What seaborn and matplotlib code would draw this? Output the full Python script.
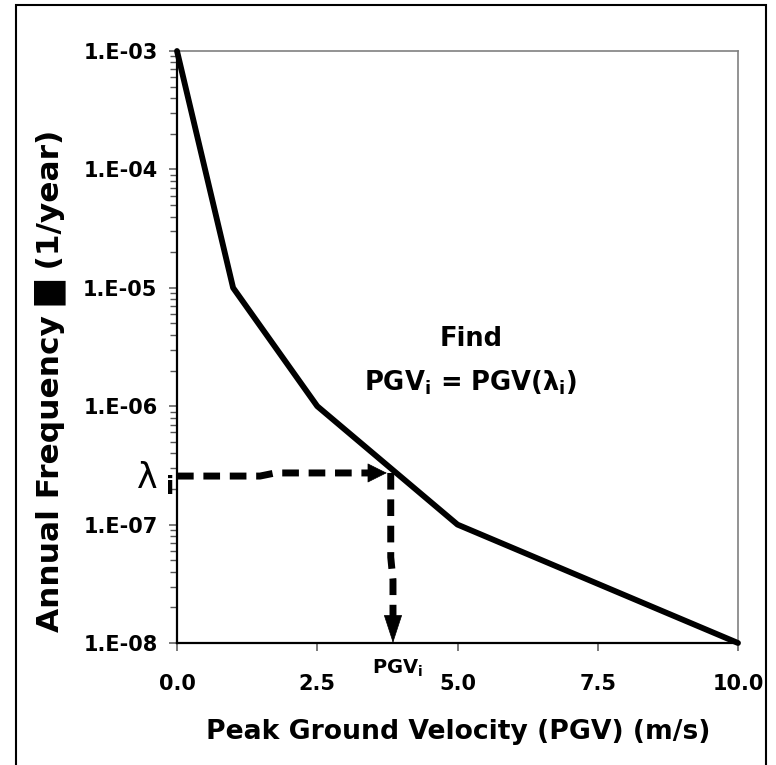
import numpy as np
import pandas as pd
import seaborn as sns
import matplotlib
matplotlib.use("Agg")
import matplotlib.pyplot as plt
from matplotlib.ticker import FixedLocator, LogLocator, NullFormatter, FixedFormatter
from matplotlib.patches import Rectangle

# ---- data ----
pgv = [0.0, 1.0, 2.5, 5.0, 10.0]
freq = [1e-3, 1e-5, 1e-6, 1e-7, 1e-8]

x_ticks = [0.0, 2.5, 5.0, 7.5, 10.0]
x_ticklabels = ["0.0", "2.5", "5.0", "7.5", "10.0"]
y_ticks = [1e-8, 1e-7, 1e-6, 1e-5, 1e-4, 1e-3]
y_ticklabels = ["1.E-08", "1.E-07", "1.E-06", "1.E-05", "1.E-04", "1.E-03"]

# dashed guide from lambda_i to the curve
h_x = [0.0, 1.48, 1.75, 3.42]
h_y = [2.57e-7, 2.57e-7, 2.73e-7, 2.73e-7]
h_tip = (3.74, 2.73e-7)
# dashed guide from the curve down to PGV_i
v_x = [3.81, 3.81, 3.85, 3.85]
v_y = [2.73e-7, 5.3e-8, 3.4e-8, 1.66e-8]
v_tip = (3.85, 1.0e-8)

# ---- style ----
sns.set_theme(style="ticks")
plt.rcParams["font.family"] = ["DejaVu Sans"]
plt.rcParams["font.weight"] = "bold"
plt.rcParams["mathtext.default"] = "regular"
for k in ["text.color", "axes.labelcolor", "xtick.labelcolor", "ytick.labelcolor"]:
    plt.rcParams[k] = "black"

fig = plt.figure(figsize=(7.76, 7.65), dpi=100)
ax = fig.add_axes([177 / 776, 1 - 643 / 765, (738 - 177) / 776, (643 - 51) / 765])

df = pd.DataFrame({"PGV": pgv, "Freq": freq})
sns.lineplot(data=df, x="PGV", y="Freq", ax=ax, color="black", lw=4.2,
             clip_on=False, zorder=3)

ax.set_yscale("log")
ax.set_xlim(0, 10)
ax.set_ylim(1e-8, 1e-3)

ax.xaxis.set_major_locator(FixedLocator(x_ticks))
ax.xaxis.set_major_formatter(FixedFormatter(x_ticklabels))
ax.yaxis.set_major_locator(FixedLocator(y_ticks))
ax.yaxis.set_major_formatter(FixedFormatter(y_ticklabels))
ax.yaxis.set_minor_locator(LogLocator(base=10, subs=np.arange(2, 10)))
ax.yaxis.set_minor_formatter(NullFormatter())

ax.tick_params(axis="both", which="major", direction="out", length=6, width=1.1,
               color="#555555", labelsize=15, labelcolor="black")
ax.tick_params(axis="y", which="minor", direction="out", length=5, width=1.0,
               color="#555555")
ax.tick_params(axis="y", which="major", pad=8)
ax.tick_params(axis="x", which="major", pad=16)
for lab in ax.get_xticklabels() + ax.get_yticklabels():
    lab.set_fontweight("bold")

for s in ["left", "bottom"]:
    ax.spines[s].set_color("black")
    ax.spines[s].set_linewidth(1.6)
for s in ["top", "right"]:
    ax.spines[s].set_visible(True)
    ax.spines[s].set_color("#808080")
    ax.spines[s].set_linewidth(1.2)

ax.set_xlabel("Peak Ground Velocity (PGV) (m/s)", fontsize=19.2, fontweight="bold",
              color="black")
ax.xaxis.set_label_coords(0.501, -0.128)
ax.set_ylabel("Annual Frequency \u2588 (1/year)", fontsize=22.5, fontweight="bold",
              color="black")
ax.yaxis.set_label_coords(-0.198, 0.4426)

# dashed guides + arrow heads
ax.plot(h_x, h_y, color="black", lw=5, ls=(0, (2.4, 1.4)), clip_on=False, zorder=4)
ax.plot(v_x, v_y, color="black", lw=5, ls=(0, (2.4, 1.4)), clip_on=False, zorder=4)
ax.annotate("", xy=h_tip, xytext=(-13, 0), textcoords="offset points",
            arrowprops=dict(arrowstyle="-|>,head_length=13,head_width=6.5",
                            mutation_scale=1, color="black", lw=0.5,
                            shrinkA=0, shrinkB=0), zorder=5)
ax.annotate("", xy=v_tip, xytext=(0, 19), textcoords="offset points",
            arrowprops=dict(arrowstyle="-|>,head_length=19,head_width=6.2",
                            mutation_scale=1, color="black", lw=0.5,
                            shrinkA=0, shrinkB=0), zorder=5)

# annotations
ax.text(0.524, 0.5135, "Find", transform=ax.transAxes, ha="center", va="center",
        fontsize=18.5, fontweight="bold", color="black")
ax.text(0.524, 0.439, r"PGV$_\mathbf{i}$ = PGV($\lambda_\mathbf{i}$)", transform=ax.transAxes,
        ha="center", va="center", fontsize=18.5, fontweight="bold", color="black")
ax.text(-0.006, 0.279, r"$\lambda_\mathbf{\ i}$", transform=ax.transAxes, ha="right",
        va="center", fontsize=25, fontweight="normal", clip_on=False, color="black")
ax.text(0.394, -0.042, r"PGV$_\mathbf{i}$", transform=ax.transAxes, ha="center",
        va="center", fontsize=14, fontweight="bold", clip_on=False, color="black")

# outer frame
fig.add_artist(Rectangle((16 / 776, -0.02), (766 - 16) / 776, 1 - 5 / 765 + 0.02,
                         transform=fig.transFigure, fill=False, ec="black", lw=1.5))

fig.savefig("out.png", dpi=100)
